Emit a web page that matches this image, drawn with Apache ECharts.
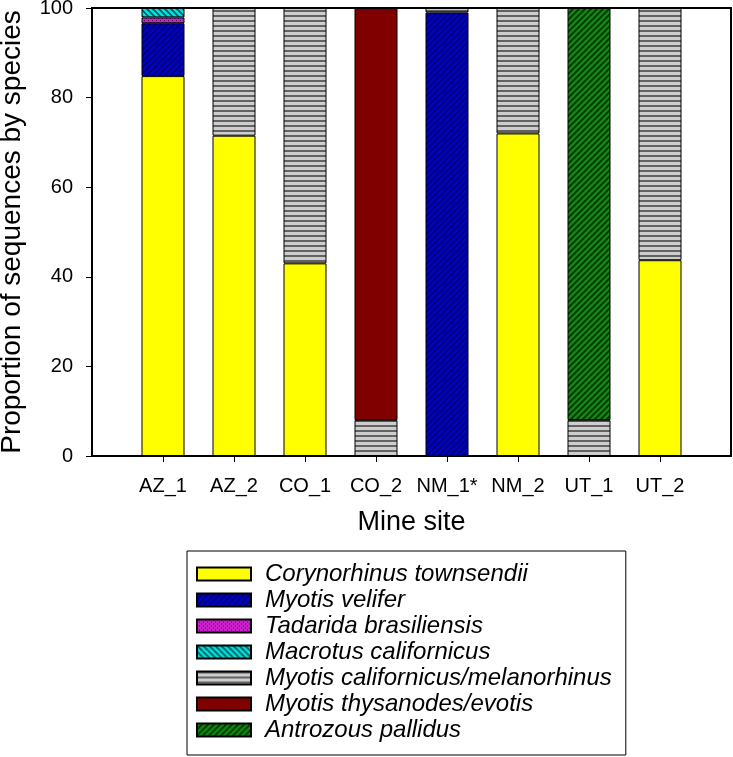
<!DOCTYPE html>
<html>
<head>
<meta charset="utf-8">
<script src="https://cdn.jsdelivr.net/npm/echarts@6/dist/echarts.min.js"></script>
<style>
  html, body { margin: 0; padding: 0; background: #fff; }
  #chart { width: 733px; height: 757px; }
</style>
</head>
<body>
<div id="chart"></div>
<script>
// mine sites on the x axis
const sites = ['AZ_1', 'AZ_2', 'CO_1', 'CO_2', 'NM_1*', 'NM_2', 'UT_1', 'UT_2'];
const yTicks = [0, 20, 40, 60, 80, 100];

// proportion of sequences (%) per species, one value per site
const corynorhinus = [84.8, 71.5, 43.0, 0, 0, 72.0, 0, 43.7];
const velifer = [11.8, 0, 0, 0, 99.0, 0, 0, 0];
const tadarida = [1.3, 0, 0, 0, 0, 0, 0, 0];
const macrotus = [2.1, 0, 0, 0, 0, 0, 0, 0];
const californicus = [0, 28.5, 57.0, 8.0, 1.0, 28.0, 8.0, 56.3];
const thysanodes = [0, 0, 0, 92.0, 0, 0, 0, 0];
const antrozous = [0, 0, 0, 0, 0, 0, 92.0, 0];

const speciesNames = [
    'Corynorhinus townsendii',
    'Myotis velifer',
    'Tadarida brasiliensis',
    'Macrotus californicus',
    'Myotis californicus/melanorhinus',
    'Myotis thysanodes/evotis',
    'Antrozous pallidus'
];
const speciesValues = [corynorhinus, velifer, tadarida, macrotus, californicus, thysanodes, antrozous];

// fill patterns (SigmaPlot style hatching)
function pattern(bg, fg, kind) {
    const s = kind === 'h' ? 5 : kind === 'dot' ? 4 : 6;
    const c = document.createElement('canvas');
    c.width = s;
    c.height = s;
    const g = c.getContext('2d');
    g.fillStyle = bg;
    g.fillRect(0, 0, s, s);
    g.fillStyle = fg;
    g.strokeStyle = fg;
    g.lineWidth = 1.6;
    if (kind === 'h') {
        g.fillRect(0, 0, s, 2);
    } else if (kind === 'dot') {
        g.fillRect(0, 0, 1, 1);
        g.fillRect(2, 2, 1, 1);
    } else if (kind === '/') {
        g.beginPath();
        g.moveTo(0, s); g.lineTo(s, 0);
        g.moveTo(-2, 2); g.lineTo(2, -2);
        g.moveTo(s - 2, s + 2); g.lineTo(s + 2, s - 2);
        g.stroke();
    } else if (kind === '\\') {
        g.beginPath();
        g.moveTo(0, 0); g.lineTo(s, s);
        g.moveTo(-2, s - 2); g.lineTo(2, s + 2);
        g.moveTo(s - 2, -2); g.lineTo(s + 2, 2);
        g.stroke();
    }
    return { image: c, repeat: 'repeat' };
}

const fills = [
    '#ffff00',
    pattern('#0000cc', '#00006e', '/'),
    pattern('#cc22cc', '#550055', 'dot'),
    pattern('#00e0e0', '#005a5a', '\\'),
    pattern('#cdcdcd', '#626262', 'h'),
    '#800000',
    pattern('#118811', '#003300', '/')
];

const font = 'Liberation Sans';
const chart = echarts.init(document.getElementById('chart'));

// the axis has an empty slot at each end, so sites sit one step in from the frame
const axisCats = [''].concat(sites, ['']);

const series = speciesNames.map((name, k) => ({
    name: name,
    type: 'bar',
    stack: 'total',
    barWidth: 43,
    itemStyle: { color: fills[k], borderColor: '#000', borderWidth: 1 },
    emphasis: { disabled: true },
    data: ['-'].concat(speciesValues[k].map(v => (v > 0 ? v : '-')), ['-'])
}));

chart.setOption({
    animation: false,
    backgroundColor: '#fff',
    grid: {
        left: 92, right: 2, top: 8, bottom: 301,
        outerBoundsMode: 'none',
        show: true, borderColor: '#000', borderWidth: 2
    },
    xAxis: {
        type: 'category',
        data: axisCats,
        boundaryGap: false,
        name: 'Mine site',
        nameLocation: 'middle',
        nameGap: 53,
        nameTextStyle: { fontFamily: font, fontSize: 27, color: '#000' },
        splitLine: { show: false },
        axisLine: { lineStyle: { color: '#000', width: 2 } },
        axisTick: {
            length: 6, lineStyle: { color: '#000', width: 1 },
            interval: (i, v) => v !== ''
        },
        axisLabel: {
            margin: 20, interval: 0,
            fontFamily: font, fontSize: 20, color: '#000'
        }
    },
    yAxis: {
        type: 'value',
        min: 0, max: 100, interval: 20,
        name: 'Proportion of sequences by species',
        nameLocation: 'middle',
        nameGap: 66,
        nameTextStyle: { fontFamily: font, fontSize: 28, color: '#000' },
        splitLine: { show: false },
        axisLine: { show: true, lineStyle: { color: '#000', width: 2 } },
        axisTick: { show: true, length: 6, lineStyle: { color: '#000', width: 1 } },
        axisLabel: {
            margin: 19,
            fontFamily: font, fontSize: 20, color: '#000',
            formatter: v => (yTicks.includes(v) ? String(v) : '')
        }
    },
    legend: {
        orient: 'vertical',
        left: 187, top: 551,
        padding: [11, 14, 13, 9],
        borderColor: '#000', borderWidth: 1,
        itemWidth: 54, itemHeight: 13, itemGap: 2,
        icon: 'rect',
        selectedMode: false,
        textStyle: {
            fontFamily: font, fontSize: 24, fontStyle: 'italic', color: '#000',
            lineHeight: 24,
            padding: [0, 0, 0, 9]
        },
        data: speciesNames
    },
    series: series
});
</script>
</body>
</html>
